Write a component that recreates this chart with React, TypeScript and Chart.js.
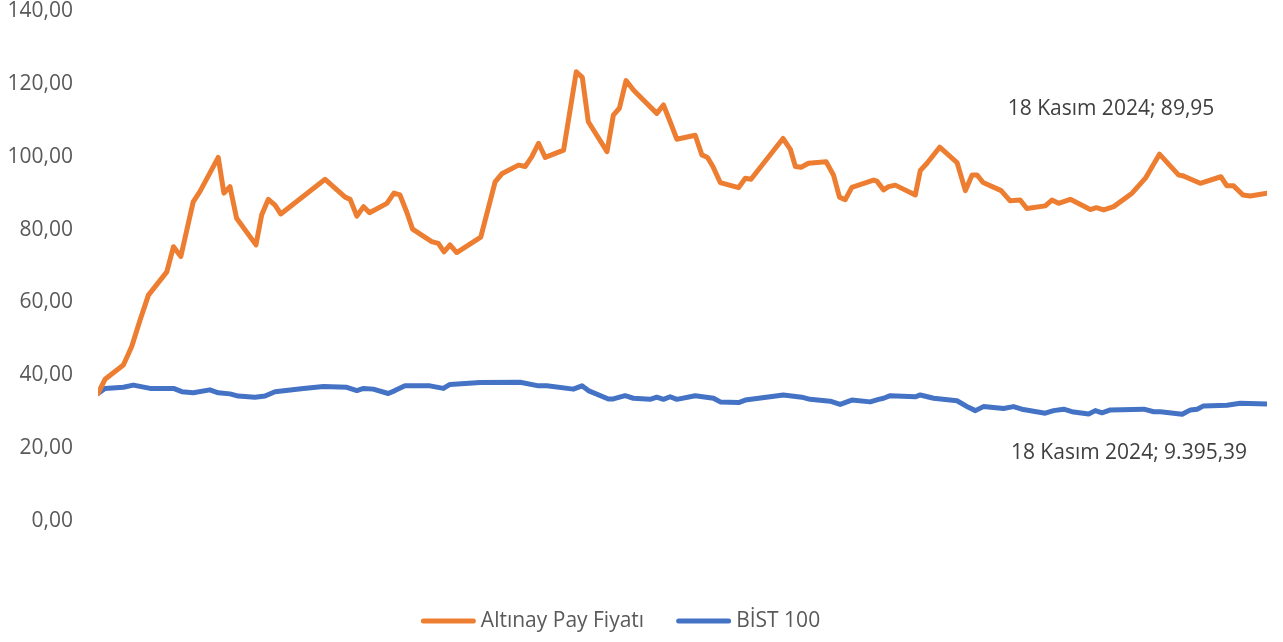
import React, { useEffect, useRef } from "react";
import { Chart, registerables } from "chart.js";

Chart.register(...registerables);

// Time index (relative trading-day position) and values
const altinayT = [0, 2.1, 7.6, 10.1, 12.6, 15.1, 20.6, 22.6, 24.8, 28.5, 30.5, 36.0, 37.7, 39.5, 41.5, 47.3, 49.0, 51.0, 53.0, 54.7, 68.0, 74.0, 75.5, 77.5, 79.5, 81.3, 86.5, 88.6, 90.4, 92.4, 94.2, 99.9, 101.9, 103.6, 105.4, 107.4, 114.6, 118.9, 120.9, 125.9, 127.9, 129.9, 131.9, 133.9, 139.4, 143.2, 145.0, 146.8, 152.4, 154.3, 156.1, 158.1, 160.3, 167.3, 169.3, 171.3, 173.3, 178.8, 180.8, 182.5, 184.1, 186.3, 191.8, 193.8, 195.5, 205.1, 207.3, 208.8, 210.5, 212.7, 218.0, 220.2, 222.0, 223.7, 225.7, 232.2, 233.2, 235.2, 236.7, 238.7, 244.7, 246.2, 248.2, 252.0, 257.2, 259.7, 261.7, 263.2, 265.0, 270.4, 273.1, 276.1, 278.1, 283.6, 285.6, 287.6, 291.1, 297.1, 298.9, 301.1, 304.1, 309.6, 313.6, 317.8, 323.5, 325.0, 330.0, 336.2, 338.0, 340.0, 342.8, 345.0, 350];
const altinayValues = [35.0, 38.9, 42.8, 47.9, 55.2, 62.0, 68.4, 75.3, 72.6, 87.6, 90.4, 99.8, 90.0, 91.8, 83.1, 75.8, 84.0, 88.3, 86.7, 84.3, 93.8, 88.9, 88.3, 83.7, 86.3, 84.6, 87.2, 90.0, 89.5, 84.9, 80.1, 76.7, 76.2, 73.9, 75.8, 73.7, 77.9, 93.1, 95.3, 97.7, 97.3, 100.0, 103.7, 99.8, 101.8, 123.3, 121.8, 109.6, 101.4, 111.4, 113.3, 120.9, 118.3, 111.9, 114.2, 109.6, 104.8, 105.9, 100.5, 99.8, 97.3, 92.9, 91.5, 94.1, 93.8, 105.0, 102.0, 97.3, 97.1, 98.2, 98.6, 95.0, 88.9, 88.2, 91.6, 93.6, 93.3, 90.9, 91.8, 92.2, 89.5, 96.2, 98.2, 102.6, 98.4, 90.7, 95.0, 95.0, 92.9, 90.7, 87.9, 88.1, 85.8, 86.5, 88.1, 87.2, 88.3, 85.5, 86.0, 85.4, 86.3, 90.0, 94.1, 100.7, 95.0, 94.7, 92.7, 94.5, 92.0, 92.0, 89.5, 89.2, 89.95];

const bistT = [0, 2.1, 7.6, 10.6, 15.6, 22.6, 25.1, 28.5, 33.5, 36.0, 39.5, 42.0, 47.0, 50.0, 53.0, 61.5, 67.5, 74.5, 77.5, 79.5, 82.4, 86.9, 88.9, 91.9, 99.4, 103.4, 105.4, 114.4, 126.4, 131.9, 134.4, 142.3, 144.9, 146.8, 152.8, 154.3, 157.8, 160.3, 165.3, 167.3, 169.3, 171.3, 173.3, 178.8, 184.3, 186.3, 191.8, 193.8, 205.2, 210.7, 213.2, 219.2, 222.2, 225.7, 231.2, 233.7, 235.2, 237.2, 244.7, 246.2, 250.2, 257.2, 260.6, 262.7, 265.1, 271.1, 274.1, 276.6, 283.6, 286.1, 289.1, 291.6, 296.6, 298.6, 300.6, 303.1, 313.1, 316.1, 318.1, 324.6, 327.1, 329.1, 331.0, 338.0, 342.0, 350];
const bistValues = [35.0, 36.4, 36.7, 37.3, 36.4, 36.4, 35.5, 35.2, 36.0, 35.2, 34.9, 34.3, 34.0, 34.3, 35.5, 36.4, 36.9, 36.7, 35.8, 36.4, 36.2, 35.0, 35.8, 37.1, 37.1, 36.4, 37.5, 38.0, 38.1, 37.1, 37.1, 36.2, 37.1, 35.8, 33.5, 33.5, 34.4, 33.7, 33.4, 34.0, 33.4, 34.1, 33.4, 34.4, 33.7, 32.7, 32.5, 33.2, 34.6, 34.0, 33.4, 32.9, 32.0, 33.2, 32.7, 33.4, 33.7, 34.4, 34.1, 34.6, 33.7, 33.0, 31.2, 30.3, 31.4, 30.9, 31.4, 30.7, 29.6, 30.3, 30.7, 30.0, 29.4, 30.3, 29.7, 30.5, 30.7, 30.0, 30.0, 29.3, 30.5, 30.7, 31.6, 31.8, 32.3, 32.1];

const seriesNames = ["Altınay Pay Fiyatı", "BİST 100"];
const endLabels = ["18 Kasım 2024; 89,95", "18 Kasım 2024; 9.395,39"];
const yTicks = [0, 20, 40, 60, 80, 100, 120, 140];

const FONT = '"Open Sans", "Noto Sans", sans-serif';
const FONT_SIZE = 21;

export default function App() {
  const ref = useRef<HTMLCanvasElement | null>(null);

  useEffect(() => {
    if (!ref.current) return;
    const labelOffsets = [
      { dx: -156, dy: -84 },
      { dx: -138, dy: 49 },
    ];
    const endLabelPlugin = {
      id: "endLabels",
      afterDatasetsDraw(chart: any) {
        const ctx = chart.ctx;
        ctx.save();
        ctx.font = `${FONT_SIZE}px ${FONT}`;
        ctx.fillStyle = "#404040";
        ctx.textAlign = "center";
        ctx.textBaseline = "middle";
        chart.data.datasets.forEach((_: any, i: number) => {
          const meta = chart.getDatasetMeta(i);
          const last = meta.data[meta.data.length - 1];
          if (!last) return;
          ctx.fillText(endLabels[i], last.x + labelOffsets[i].dx, last.y + labelOffsets[i].dy);
        });
        ctx.restore();
      },
    };

    const legendPlugin = {
      id: "customLegend",
      afterDraw(chart: any) {
        const ctx = chart.ctx;
        const lineLen = 55;
        const gapText = 5;
        const gapItems = 32;
        ctx.save();
        ctx.font = `${FONT_SIZE}px ${FONT}`;
        const widths = chart.data.datasets.map(
          (d: any) => lineLen + gapText + ctx.measureText(d.label).width
        );
        const total = widths.reduce((a: number, b: number) => a + b, 0) + gapItems * (widths.length - 1);
        let x = chart.width / 2 - 21 - total / 2;
        const y = chart.height - 21;
        chart.data.datasets.forEach((d: any, i: number) => {
          ctx.strokeStyle = d.borderColor;
          ctx.lineWidth = 5;
          ctx.lineCap = "round";
          ctx.beginPath();
          ctx.moveTo(x + 2.5, y);
          ctx.lineTo(x + lineLen - 2.5, y);
          ctx.stroke();
          ctx.fillStyle = "#595959";
          ctx.textAlign = "left";
          ctx.textBaseline = "middle";
          ctx.fillText(d.label, x + lineLen + gapText, y);
          x += widths[i] + gapItems;
        });
        ctx.restore();
      },
    };

    const chart = new Chart(ref.current, {
      type: "line",
      data: {
        datasets: [
          {
            label: seriesNames[0],
            data: altinayT.map((t, i) => ({ x: t, y: altinayValues[i] })),
            borderColor: "#ED7D31",
            backgroundColor: "#ED7D31",
            borderWidth: 5,
            borderCapStyle: "round",
            borderJoinStyle: "round",
            pointRadius: 0,
            tension: 0,
          },
          {
            label: seriesNames[1],
            data: bistT.map((t, i) => ({ x: t, y: bistValues[i] })),
            borderColor: "#4472C4",
            backgroundColor: "#4472C4",
            borderWidth: 5,
            borderCapStyle: "round",
            borderJoinStyle: "round",
            pointRadius: 0,
            tension: 0,
          },
        ],
      },
      options: {
        responsive: false,
        animation: false,
        layout: { padding: { left: 0, right: 16, top: 11, bottom: 0 } },
        plugins: {
          tooltip: { enabled: false },
          legend: { display: false },
        },
        scales: {
          x: {
            type: "linear",
            min: 0,
            max: 350,
            display: true,
            ticks: { display: false },
            grid: { display: false, drawTicks: false },
            border: { display: false },
            afterFit: (s: any) => {
              s.height = 121;
              s.paddingLeft = 0;
              s.paddingRight = 0;
            },
          },
          y: {
            min: 0,
            max: 140,
            afterBuildTicks: (s: any) => {
              s.ticks = yTicks.map((v) => ({ value: v }));
            },
            ticks: {
              padding: 25,
              color: "#595959",
              font: { family: FONT, size: FONT_SIZE },
              callback: (v: any) => Number(v).toFixed(2).replace(".", ","),
            },
            grid: { display: false, drawTicks: false },
            border: { display: false },
            afterFit: (s: any) => {
              s.width = 98;
              s.paddingTop = 0;
              s.paddingBottom = 0;
            },
          },
        },
      },
      plugins: [endLabelPlugin, legendPlugin],
    } as any);
    return () => chart.destroy();
  }, []);

  return (
    <div style={{ position: "absolute", left: 0, top: 0, width: 1283, height: 642, background: "#fff" }}>
      <canvas ref={ref} width={1283} height={642} style={{ display: "block" }} />
    </div>
  );
}
